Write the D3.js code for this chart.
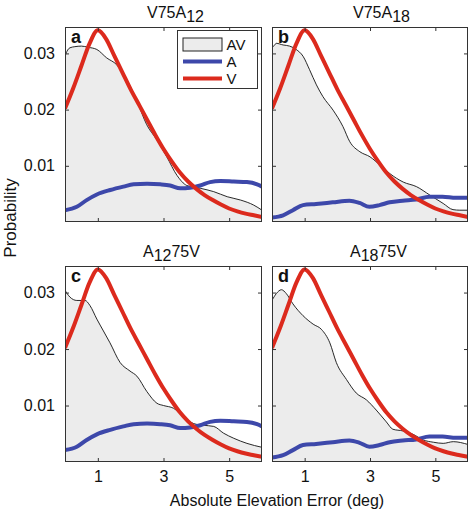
<!DOCTYPE html>
<html><head><meta charset="utf-8">
<script src="https://cdn.jsdelivr.net/npm/d3@7"></script>
<style>
body{margin:0;background:#fff}
svg{display:block}
text{font-family:"Liberation Sans",Arial,Helvetica,sans-serif;fill:#111}
</style>
</head><body>
<svg id="chart" width="470" height="510"></svg>
<script>
// ---------- data (probability values, x in deg) ----------
const xTicks = [1, 3, 5];
const yTicks = [0.01, 0.02, 0.03];
const yTickLabels = ["0.01", "0.02", "0.03"];
const xTickLabels = ["1", "3", "5"];
const seriesNames = ["AV", "A", "V"];

// V (visual only) – same in all panels
const vX = [0,0.25,0.5,0.75,1.0,1.25,1.5,1.75,2.0,2.25,2.5,2.75,3.0,3.25,3.5,3.75,4.0,4.25,4.5,4.75,5.0,5.25,5.5,5.75,6.0];
const vY = [0.0202,0.0238,0.0278,0.0318,0.0341,0.0326,0.0296,0.0266,0.0236,0.0209,0.0182,0.0155,0.0130,0.0108,0.0088,0.0072,0.0059,0.0048,0.0039,0.0031,0.0024,0.0019,0.0015,0.0012,0.0009];

// A (auditory only) at 12 deg (panels a, c)
const a12X = [0,0.36,0.66,0.97,1.38,1.78,2.09,2.5,2.9,3.2,3.51,3.81,4.12,4.42,4.73,5.14,5.54,5.85,6.0];
const a12Y = [0.0021,0.0027,0.0039,0.0049,0.0057,0.0063,0.0067,0.0068,0.0067,0.0065,0.0060,0.0061,0.0065,0.0071,0.0073,0.0072,0.0071,0.0067,0.0063];

// A (auditory only) at 18 deg (panels b, d)
const a18X = [0,0.34,0.64,0.95,1.35,1.86,2.37,2.68,2.98,3.29,3.6,4.0,4.41,4.82,5.22,5.63,6.0];
const a18Y = [0.0008,0.0012,0.0021,0.0030,0.0032,0.0035,0.0038,0.0034,0.0027,0.0030,0.0035,0.0038,0.0040,0.0045,0.0045,0.0043,0.0043];

// AV panel a: V75A12
const avAX = [0,0.08,0.15,0.3,0.5,0.7,0.97,1.27,1.57,1.88,2.18,2.49,2.8,3.1,3.41,3.71,4.12,4.53,4.94,5.35,5.75,6.0];
const avAY = [0.0295,0.0306,0.0310,0.0312,0.0313,0.0311,0.0307,0.0292,0.0280,0.0253,0.0217,0.0173,0.0146,0.0116,0.0083,0.0065,0.0060,0.0054,0.0045,0.0039,0.0030,0.0021];

// AV panel b: V75A18
const avBX = [0,0.07,0.13,0.34,0.54,0.74,0.95,1.15,1.36,1.56,1.87,2.17,2.38,2.69,3.0,3.31,3.61,4.02,4.42,4.83,5.24,5.54,5.75,6.0];
const avBY = [0.0311,0.0314,0.0318,0.0315,0.0313,0.0307,0.0295,0.0271,0.0244,0.0223,0.0199,0.0170,0.0143,0.0125,0.0116,0.0101,0.0086,0.0071,0.0063,0.0048,0.0033,0.0022,0.0021,0.0021];

// AV panel c: A12 75V
const avCX = [0,0.15,0.36,0.61,0.76,0.97,1.17,1.37,1.68,1.98,2.19,2.49,2.8,3.0,3.31,3.61,3.92,4.22,4.53,4.83,5.14,5.54,6.0];
const avCY = [0.0304,0.0292,0.0286,0.0286,0.0277,0.0253,0.0232,0.0211,0.0176,0.0161,0.0152,0.0125,0.0104,0.0100,0.0095,0.0080,0.0068,0.0065,0.0063,0.0051,0.0042,0.0033,0.0026];

// AV panel d: A18 75V
const avDX = [0,0.13,0.29,0.44,0.64,0.95,1.26,1.51,1.77,1.97,2.28,2.58,2.89,3.19,3.5,3.7,4.01,4.32,4.63,4.94,5.24,5.55,6.0];
const avDY = [0.0286,0.0298,0.0305,0.0298,0.0280,0.0259,0.0244,0.0235,0.0211,0.0176,0.0146,0.0122,0.0110,0.0092,0.0071,0.0058,0.0055,0.0049,0.0039,0.0035,0.0033,0.0036,0.0031];

const titles = [
  [["V75A",0],["12",1]],
  [["V75A",0],["18",1]],
  [["A",0],["12",1],["75V",0]],
  [["A",0],["18",1],["75V",0]]
];
const letters = ["a","b","c","d"];

// ---------- layout ----------
const colors = {fill:"#ececec", av:"#111", a:"#3d48aa", v:"#dc2a1d"};
const panels = [
  {x0:65,  x1:262, y0:27,  y1:222, av:[avAX,avAY], a:[a12X,a12Y], tx:147, showY:true,  showX:false, legend:true},
  {x0:272, x1:468, y0:27,  y1:222, av:[avBX,avBY], a:[a18X,a18Y], tx:353, showY:false, showX:false, legend:false},
  {x0:65,  x1:262, y0:266, y1:462, av:[avCX,avCY], a:[a12X,a12Y], tx:143, showY:true,  showX:true,  legend:false},
  {x0:272, x1:468, y0:266, y1:462, av:[avDX,avDY], a:[a18X,a18Y], tx:350, showY:false, showX:true,  legend:false}
];

const svg = d3.select("#chart");
const zip = (xs, ys) => xs.map((x,i)=>[x, ys[i]]);
const vData = zip(vX, vY);

panels.forEach((p, i) => {
  const x = d3.scaleLinear().domain([0,6]).range([p.x0, p.x1]);
  const y = d3.scaleLinear().domain([0,0.0347]).range([p.y1, p.y0]);
  const g = svg.append("g");
  const clipId = "clip"+i;
  svg.append("clipPath").attr("id", clipId).append("rect")
    .attr("x", p.x0).attr("y", p.y0).attr("width", p.x1-p.x0).attr("height", p.y1-p.y0);
  const plot = g.append("g").attr("clip-path", `url(#${clipId})`);
  plot.append("rect").attr("x", p.x0).attr("y", p.y0).attr("width", p.x1-p.x0).attr("height", p.y1-p.y0).attr("fill","#fff");

  const avData = zip(p.av[0], p.av[1]);
  const area = d3.area().x(d=>x(d[0])).y0(y(0)).y1(d=>y(d[1])).curve(d3.curveMonotoneX);
  const line = d3.line().x(d=>x(d[0])).y(d=>y(d[1])).curve(d3.curveMonotoneX);
  plot.append("path").attr("d", area(avData)).attr("fill", colors.fill);
  plot.append("path").attr("d", line(avData)).attr("fill","none").attr("stroke", colors.av).attr("stroke-width",0.9);
  plot.append("path").attr("d", line(zip(p.a[0], p.a[1]))).attr("fill","none").attr("stroke", colors.a).attr("stroke-width",4).attr("stroke-linejoin","round");
  plot.append("path").attr("d", line(vData)).attr("fill","none").attr("stroke", colors.v).attr("stroke-width",4).attr("stroke-linejoin","round");

  // axes (inside ticks on all four sides)
  const tl = 4;
  const bottom = d3.axisBottom(x).tickValues(xTicks).tickSizeInner(-tl).tickSizeOuter(0)
      .tickFormat((d,k)=> p.showX ? xTickLabels[k] : "").tickPadding(9);
  const top = d3.axisTop(x).tickValues(xTicks).tickSizeInner(-tl).tickSizeOuter(0).tickFormat("");
  const left = d3.axisLeft(y).tickValues(yTicks).tickSizeInner(-tl).tickSizeOuter(0)
      .tickFormat((d,k)=> p.showY ? yTickLabels[k] : "").tickPadding(10);
  const right = d3.axisRight(y).tickValues(yTicks).tickSizeInner(-tl).tickSizeOuter(0).tickFormat("");
  const styleAxis = sel => {
    sel.select(".domain").remove();
    sel.selectAll("line").attr("stroke","#333").attr("stroke-width",1);
    sel.selectAll("text").attr("font-size",16).attr("fill","#111")
      .style("font-family",'"Liberation Sans",Arial,sans-serif');
  };
  g.append("g").attr("transform",`translate(0,${p.y1})`).call(bottom).call(styleAxis);
  g.append("g").attr("transform",`translate(0,${p.y0})`).call(top).call(styleAxis);
  g.append("g").attr("transform",`translate(${p.x0},0)`).call(left).call(styleAxis);
  g.append("g").attr("transform",`translate(${p.x1},0)`).call(right).call(styleAxis);

  // frame
  g.append("rect").attr("x", p.x0+0.5).attr("y", p.y0+0.5).attr("width", p.x1-p.x0-1).attr("height", p.y1-p.y0-1)
    .attr("fill","none").attr("stroke","#333").attr("stroke-width",1);

  // title with subscripts
  const t = g.append("text").attr("x", p.tx).attr("y", p.y0-9.5).attr("font-size",16);
  titles[i].forEach(([s, sub], k) => {
    const prevSub = k>0 && titles[i][k-1][1];
    t.append("tspan").text(s).attr("dy", sub && !prevSub ? 4 : (!sub && prevSub ? -4 : 0));
  });

  // panel letter
  g.append("text").attr("x", p.x0+6).attr("y", p.y0+16).attr("font-size",18).attr("font-weight","bold").text(letters[i]);

  if (p.legend) {
    const lx = 177.5, ly = 30.5, lw = 80, lh = 58;
    const lg = g.append("g");
    lg.append("rect").attr("x",lx).attr("y",ly).attr("width",lw).attr("height",lh).attr("fill","#fff").attr("stroke","#333").attr("stroke-width",1);
    const rows = [44.5, 61.5, 78.5];
    lg.append("rect").attr("x",183).attr("y",38).attr("width",39).attr("height",13).attr("fill",colors.fill).attr("stroke","#222").attr("stroke-width",1);
    lg.append("line").attr("x1",183).attr("x2",222).attr("y1",rows[1]).attr("y2",rows[1]).attr("stroke",colors.a).attr("stroke-width",4);
    lg.append("line").attr("x1",183).attr("x2",222).attr("y1",rows[2]).attr("y2",rows[2]).attr("stroke",colors.v).attr("stroke-width",4);
    seriesNames.forEach((n,k)=>{
      lg.append("text").attr("x",226.5).attr("y",rows[k]+5.5).attr("font-size",15).text(n);
    });
  }
});

// axis labels
svg.append("text").attr("x",277).attr("y",506).attr("text-anchor","middle").attr("font-size",16)
  .text("Absolute Elevation Error (deg)");
svg.append("text").attr("transform","translate(16,218) rotate(-90)").attr("text-anchor","middle").attr("font-size",17)
  .text("Probability");
</script>
</body></html>
